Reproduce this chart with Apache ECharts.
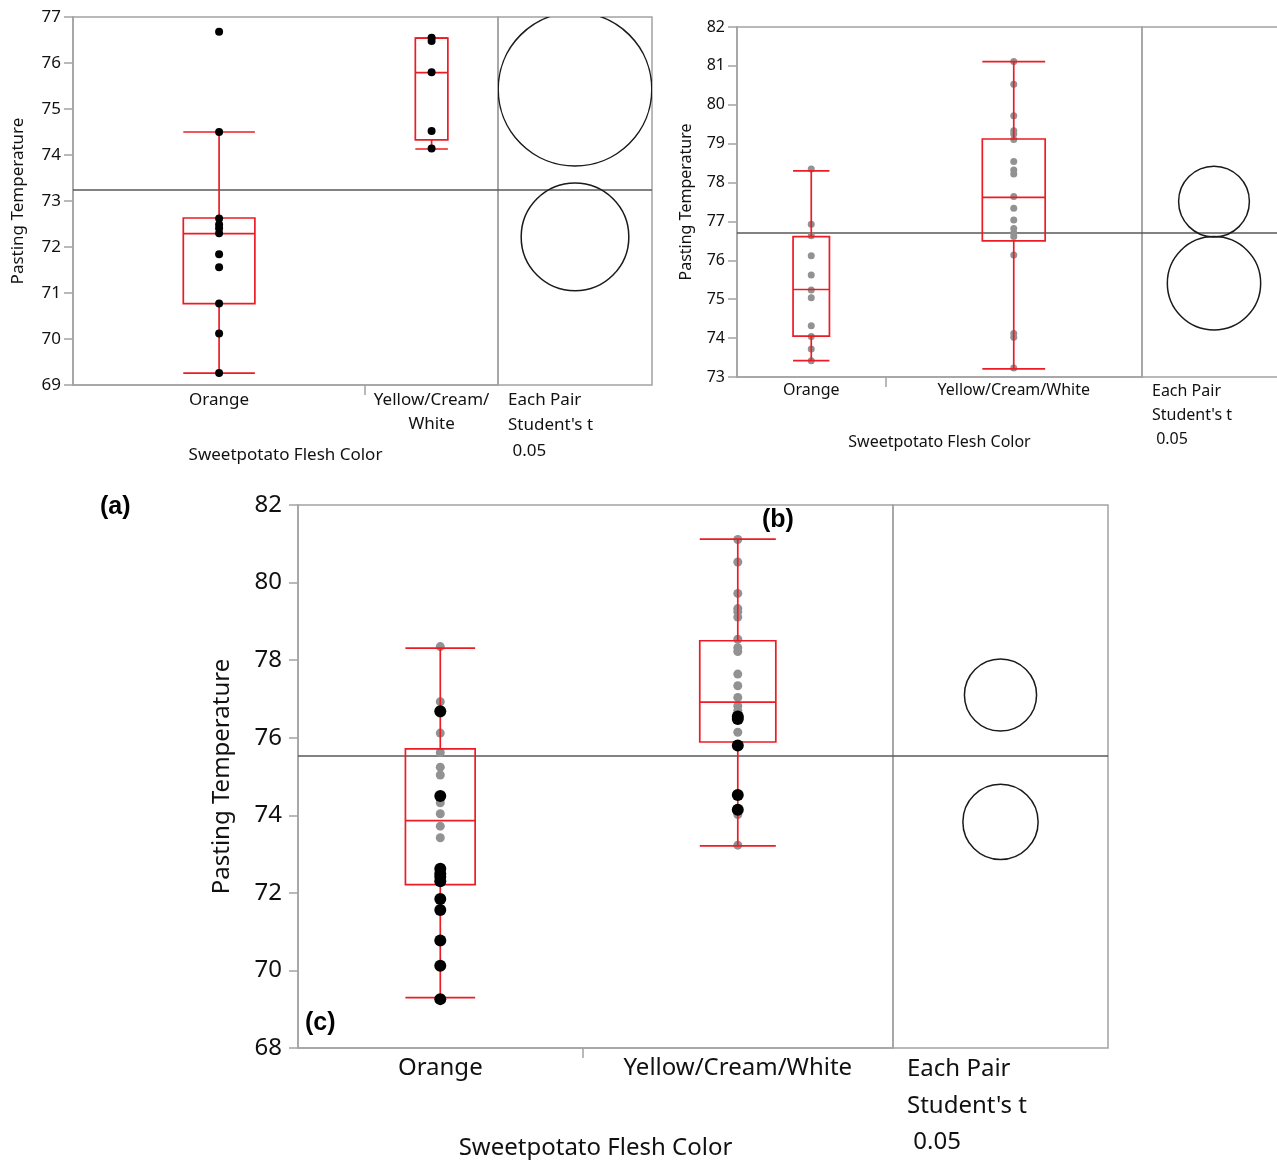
<!DOCTYPE html>
<html><head><meta charset="utf-8">
<script src="https://cdn.jsdelivr.net/npm/echarts@6/dist/echarts.min.js"></script>
<style>html,body{margin:0;padding:0;background:#fff}#chart{width:1277px;height:1160px}</style>
</head><body><div id="chart"></div>
<script>
// ---------------- data ----------------
const categories = ['Orange', 'Yellow/Cream/White'];
const xAxisTitle = 'Sweetpotato Flesh Color';
const yAxisTitle = 'Pasting Temperature';
const compareText = "Each Pair\nStudent's t\n 0.05";

// panel (a) observations (black points)
const orangeA = [76.68, 74.50, 72.62, 72.49, 72.41, 72.30, 71.84, 71.56, 70.77, 70.12, 69.26];
const yellowA = [76.55, 76.48, 75.80, 74.52, 74.14];
// panel (b) observations (gray points)
const orangeB = [78.35, 76.93, 76.63, 76.12, 75.62, 75.24, 75.04, 74.32, 74.04, 73.72, 73.42];
const yellowB = [81.11, 80.53, 79.72, 79.33, 79.25, 79.11, 78.54, 78.32, 78.22, 77.64, 77.34,
                 77.04, 76.82, 76.70, 76.61, 76.14, 74.12, 74.02, 73.23];

// box statistics [min, Q1, median, Q3, max] per category
const boxA = [[69.26, 70.77, 72.29, 72.63, 74.50], [74.13, 74.33, 75.79, 76.54, 76.54]];
const boxB = [[73.42, 74.05, 75.25, 76.61, 78.30], [73.21, 76.50, 77.62, 79.12, 81.11]];
const boxC = [[69.30, 72.21, 73.86, 75.71, 78.31], [73.21, 75.89, 76.92, 78.50, 81.12]];

// comparison circles: centre (group mean) and radius, in temperature units
const circleCentreA = [72.22, 75.43], circleRadiusA = [1.17, 1.67];
const circleCentreB = [75.41, 77.51], circleRadiusB = [1.20, 0.91];
const circleCentreC = [73.83, 77.10], circleRadiusC = [0.97, 0.93];

// grand means (horizontal reference lines)
const grandMeanA = 73.24, grandMeanB = 76.70, grandMeanC = 75.53;

// y-axis tick labels
const yTicksA = [69, 70, 71, 72, 73, 74, 75, 76, 77];
const yTicksB = [73, 74, 75, 76, 77, 78, 79, 80, 81, 82];
const yTicksC = [68, 70, 72, 74, 76, 78, 80, 82];

// ---------------- styles ----------------
const FONT = '"Noto Sans", "Open Sans", sans-serif';
const RED = '#ec1c24', FRAME = '#a3a3a3', MEANLINE = '#595959', TEXT = '#111111';
const GRAY = '#929292', BLACK = '#000000';
const BOX_FRAC = 0.245;

const panels = [
  { main: {left: 73, top: 17, width: 425, height: 368}, circ: {left: 498, top: 17, width: 154, height: 368},
    ticks: yTicksA, fs: 17, yLabelMargin: 12, yNameGap: 46, xLabelMargin: 3, xNameGap: 62, labelLH: 24,
    catLabels: ['Orange', 'Yellow/Cream/\nWhite'],
    gray: [[], []], black: [orangeA, yellowA], box: boxA,
    centre: circleCentreA, radius: circleRadiusA, gm: grandMeanA, graySize: 7, blackSize: 8,
    cmp: {left: 508, top: 387, fs: 17, lh: 25.5} },
  { main: {left: 737, top: 27, width: 405, height: 350}, circ: {left: 1142, top: 27, width: 144, height: 350},
    ticks: yTicksB, fs: 16, yLabelMargin: 12, yNameGap: 43, xLabelMargin: 2, xNameGap: 57, labelLH: 22,
    catLabels: categories,
    gray: [orangeB, yellowB], black: [[], []], box: boxB,
    centre: circleCentreB, radius: circleRadiusB, gm: grandMeanB, graySize: 7, blackSize: 8,
    cmp: {left: 1152, top: 379, fs: 16, lh: 24} },
  { main: {left: 298, top: 505, width: 595, height: 543}, circ: {left: 893, top: 505, width: 215, height: 543},
    ticks: yTicksC, fs: 24, yLabelMargin: 16, yNameGap: 64, xLabelMargin: 5, xNameGap: 88, labelLH: 30,
    catLabels: categories,
    gray: [orangeB, yellowB], black: [orangeA, yellowA], box: boxC,
    centre: circleCentreC, radius: circleRadiusC, gm: grandMeanC, graySize: 9, blackSize: 12,
    cmp: {left: 907, top: 1051, fs: 24, lh: 36.5} }
];

function seg(x1, y1, x2, y2) {
  return {type: 'line', shape: {x1, y1, x2, y2}, style: {stroke: RED, lineWidth: 1.7}};
}
function boxRender(params, api) {
  const x = api.value(0), hw = api.value(6) / 2;
  const pMin = api.coord([x, api.value(1)]), pQ1 = api.coord([x, api.value(2)]);
  const pMed = api.coord([x, api.value(3)]), pQ3 = api.coord([x, api.value(4)]);
  const pMax = api.coord([x, api.value(5)]);
  const xl = api.coord([x - hw, api.value(3)])[0], xr = api.coord([x + hw, api.value(3)])[0];
  const xc = pMin[0];
  return {type: 'group', children: [
    seg(xc, pQ3[1], xc, pMax[1]),
    seg(xc, pQ1[1], xc, pMin[1]),
    {type: 'rect', shape: {x: xl, y: pQ3[1], width: xr - xl, height: pQ1[1] - pQ3[1]},
     style: {stroke: RED, lineWidth: 1.7, fill: 'none'}},
    seg(xl, pMed[1], xr, pMed[1]),
    seg(xl, pMax[1], xr, pMax[1]),
    seg(xl, pMin[1], xr, pMin[1])
  ]};
}
function circleRender(params, api) {
  const c = api.coord([api.value(0), api.value(1)]);
  const r = api.size([0, api.value(2)])[1];
  const cs = params.coordSys;
  return {type: 'group',
    clipPath: {type: 'rect', shape: {x: cs.x, y: cs.y, width: cs.width, height: cs.height}},
    children: [{type: 'circle', shape: {cx: c[0], cy: c[1], r: r},
      style: {fill: 'none', stroke: '#1a1a1a', lineWidth: 1.5}}]};
}

const grid = [], xAxis = [], yAxis = [], series = [], graphic = [];
panels.forEach((p, i) => {
  const gMain = grid.length, gCirc = gMain + 1;
  const n = [p.gray[0].length + p.black[0].length, p.gray[1].length + p.black[1].length];
  const N = n[0] + n[1];
  const centres = [n[0] / 2, n[0] + n[1] / 2];
  const gridBase = {show: true, borderColor: FRAME, borderWidth: 1.5, containLabel: false, outerBoundsMode: 'none'};
  grid.push(Object.assign({}, gridBase, p.main));
  grid.push(Object.assign({}, gridBase, p.circ));
  const txt = {color: TEXT, fontFamily: FONT, fontSize: p.fs};
  xAxis.push({
    type: 'value', gridIndex: gMain, min: 0, max: N,
    axisLine: {show: true, lineStyle: {color: FRAME, width: 1.5}},
    axisTick: {show: true, customValues: [n[0]], length: 10, lineStyle: {color: FRAME, width: 1.5}},
    axisLabel: Object.assign({customValues: centres, margin: p.xLabelMargin, lineHeight: p.labelLH,
      formatter: (v) => (Math.abs(v - centres[0]) < 1e-6 ? p.catLabels[0] : p.catLabels[1])}, txt),
    splitLine: {show: false},
    name: xAxisTitle, nameLocation: 'middle', nameGap: p.xNameGap, nameTextStyle: txt
  });
  xAxis.push({type: 'value', gridIndex: gCirc, min: 0, max: 1, show: false});
  const yMin = p.ticks[0], yMax = p.ticks[p.ticks.length - 1];
  const yInt = p.ticks[1] - p.ticks[0];
  yAxis.push({
    type: 'value', gridIndex: gMain, min: yMin, max: yMax, interval: yInt,
    axisLine: {show: true, lineStyle: {color: FRAME, width: 1.5}},
    axisTick: {show: true, length: 9, lineStyle: {color: FRAME, width: 1.5}},
    axisLabel: Object.assign({margin: p.yLabelMargin}, txt),
    splitLine: {show: false},
    name: yAxisTitle, nameLocation: 'middle', nameGap: p.yNameGap, nameTextStyle: txt
  });
  yAxis.push({type: 'value', gridIndex: gCirc, min: yMin, max: yMax, interval: yInt, show: false});

  const xi = gMain, xc = gCirc;
  series.push({type: 'line', xAxisIndex: xi, yAxisIndex: xi, data: [[0, p.gm], [N, p.gm]],
    symbol: 'none', silent: true, z: 1, lineStyle: {color: MEANLINE, width: 1.5}});
  series.push({type: 'line', xAxisIndex: xc, yAxisIndex: xc, data: [[0, p.gm], [1, p.gm]],
    symbol: 'none', silent: true, z: 1, lineStyle: {color: MEANLINE, width: 1.5}});
  const grayData = [];
  p.gray.forEach((arr, k) => arr.forEach(v => grayData.push([centres[k], v])));
  if (grayData.length) series.push({type: 'scatter', xAxisIndex: xi, yAxisIndex: xi, data: grayData,
    symbolSize: p.graySize, itemStyle: {color: GRAY, opacity: 1}, z: 2, silent: true});
  series.push({type: 'custom', xAxisIndex: xi, yAxisIndex: xi, renderItem: boxRender, z: 3, silent: true,
    encode: {x: 0, y: [1, 5]},
    data: p.box.map((b, k) => [centres[k], b[0], b[1], b[2], b[3], b[4], n[k] * BOX_FRAC])});
  const blackData = [];
  p.black.forEach((arr, k) => arr.forEach(v => blackData.push([centres[k], v])));
  if (blackData.length) series.push({type: 'scatter', xAxisIndex: xi, yAxisIndex: xi, data: blackData,
    symbolSize: p.blackSize, itemStyle: {color: BLACK, opacity: 1}, z: 4, silent: true});
  series.push({type: 'custom', xAxisIndex: xc, yAxisIndex: xc, renderItem: circleRender, clip: true,
    z: 3, silent: true, encode: {x: 0, y: 1},
    data: p.centre.map((c, k) => [0.5, c, p.radius[k]])});
  graphic.push({type: 'text', left: p.cmp.left, top: p.cmp.top,
    style: {text: compareText, fill: TEXT, font: p.cmp.fs + 'px ' + FONT, lineHeight: p.cmp.lh}});
});

const panelLetters = [
  {t: '(a)', left: 100, top: 495}, {t: '(b)', left: 762, top: 508}, {t: '(c)', left: 305, top: 1011}
];
panelLetters.forEach(l => graphic.push({type: 'text', left: l.left, top: l.top, z: 10,
  style: {text: l.t, fill: '#000', font: 'bold 25px "Liberation Sans", Arial, sans-serif'}}));

const chart = echarts.init(document.getElementById('chart'), null, {renderer: 'canvas'});
chart.setOption({animation: false, backgroundColor: '#fff', grid, xAxis, yAxis, series, graphic});
</script></body></html>
